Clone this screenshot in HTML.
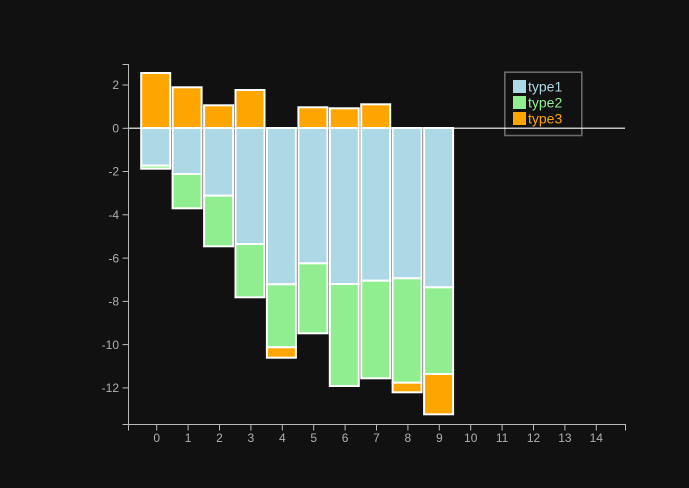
<!DOCTYPE html>
<html><head><meta charset="utf-8"><style>
html,body{margin:0;padding:0;background:#111111;}
svg{display:block;}
text{font-family:"Liberation Sans",Arial,sans-serif;}
</style></head><body>
<svg width="689" height="488" viewBox="0 0 689 488" xmlns="http://www.w3.org/2000/svg">
<rect x="0" y="0" width="689" height="488" fill="#111111"/>
<g stroke="#ffffff" stroke-width="2">
<!-- bar 0 -->
<rect x="141.2" y="73" width="29" height="55" fill="#ffa500"/>
<rect x="141.2" y="128" width="29" height="37.5" fill="#add8e6"/>
<rect x="141.2" y="165.5" width="29" height="3.2" fill="#90ee90"/>
<!-- bar 1 -->
<rect x="172.6" y="87.3" width="29" height="40.7" fill="#ffa500"/>
<rect x="172.6" y="128" width="29" height="46" fill="#add8e6"/>
<rect x="172.6" y="174" width="29" height="34.3" fill="#90ee90"/>
<!-- bar 2 -->
<rect x="204.1" y="105.3" width="29" height="22.7" fill="#ffa500"/>
<rect x="204.1" y="128" width="29" height="67.7" fill="#add8e6"/>
<rect x="204.1" y="195.7" width="29" height="50.6" fill="#90ee90"/>
<!-- bar 3 -->
<rect x="235.5" y="90" width="29" height="38" fill="#ffa500"/>
<rect x="235.5" y="128" width="29" height="116" fill="#add8e6"/>
<rect x="235.5" y="244" width="29" height="53.3" fill="#90ee90"/>
<!-- bar 4 -->
<rect x="266.9" y="128" width="29" height="156.3" fill="#add8e6"/>
<rect x="266.9" y="284.3" width="29" height="63" fill="#90ee90"/>
<rect x="266.9" y="347.3" width="29" height="10.4" fill="#ffa500"/>
<!-- bar 5 -->
<rect x="298.4" y="107.3" width="29" height="20.7" fill="#ffa500"/>
<rect x="298.4" y="128" width="29" height="135.3" fill="#add8e6"/>
<rect x="298.4" y="263.3" width="29" height="70" fill="#90ee90"/>
<!-- bar 6 -->
<rect x="329.8" y="108.3" width="29" height="19.7" fill="#ffa500"/>
<rect x="329.8" y="128" width="29" height="156" fill="#add8e6"/>
<rect x="329.8" y="284" width="29" height="102" fill="#90ee90"/>
<!-- bar 7 -->
<rect x="361.2" y="104.3" width="29" height="23.7" fill="#ffa500"/>
<rect x="361.2" y="128" width="29" height="152.7" fill="#add8e6"/>
<rect x="361.2" y="280.7" width="29" height="97.6" fill="#90ee90"/>
<!-- bar 8 -->
<rect x="392.6" y="128" width="29" height="150.3" fill="#add8e6"/>
<rect x="392.6" y="278.3" width="29" height="104.4" fill="#90ee90"/>
<rect x="392.6" y="382.7" width="29" height="9.6" fill="#ffa500"/>
<!-- bar 9 -->
<rect x="424.1" y="128" width="29" height="159.3" fill="#add8e6"/>
<rect x="424.1" y="287.3" width="29" height="86.7" fill="#90ee90"/>
<rect x="424.1" y="374" width="29" height="40.3" fill="#ffa500"/>
</g>

<!-- legend -->
<rect x="504.8" y="72.2" width="77" height="63.3" fill="none" stroke="#6a6a6a" stroke-width="1.6"/>
<rect x="513" y="80" width="13" height="13" fill="#add8e6"/>
<rect x="513" y="96" width="13" height="13" fill="#90ee90"/>
<rect x="513" y="112" width="13" height="13" fill="#ffa500"/>
<text x="528" y="91.5" font-size="14" fill="#add8e6">type1</text>
<text x="528" y="107.5" font-size="14" fill="#90ee90">type2</text>
<text x="528" y="123.5" font-size="14" fill="#ffa500">type3</text>

<!-- zero line -->
<line x1="128" y1="128.2" x2="625" y2="128.2" stroke="#ffffff" stroke-width="1.2"/>

<!-- y axis -->
<g stroke="#bbbbbb" stroke-width="1" fill="none">
<path d="M122.5,64.5H128.5V424.5H122.5"/>
<line x1="122.5" y1="85" x2="128.5" y2="85"/>
<line x1="122.5" y1="128.3" x2="128.5" y2="128.3"/>
<line x1="122.5" y1="171.5" x2="128.5" y2="171.5"/>
<line x1="122.5" y1="214.8" x2="128.5" y2="214.8"/>
<line x1="122.5" y1="258.1" x2="128.5" y2="258.1"/>
<line x1="122.5" y1="301.4" x2="128.5" y2="301.4"/>
<line x1="122.5" y1="344.6" x2="128.5" y2="344.6"/>
<line x1="122.5" y1="387.9" x2="128.5" y2="387.9"/>
</g>
<g font-size="12" fill="#b0b0b0" text-anchor="end">
<text x="119" y="89.2">2</text>
<text x="119" y="132.5">0</text>
<text x="119" y="175.7">-2</text>
<text x="119" y="219">-4</text>
<text x="119" y="262.3">-6</text>
<text x="119" y="305.6">-8</text>
<text x="119" y="348.8">-10</text>
<text x="119" y="392.1">-12</text>
</g>

<!-- x axis -->
<g stroke="#bbbbbb" stroke-width="1" fill="none">
<path d="M128.5,430.5V424.5H625.5V430.5"/>
<line x1="156.7" y1="424.5" x2="156.7" y2="430.5"/>
<line x1="188.1" y1="424.5" x2="188.1" y2="430.5"/>
<line x1="219.5" y1="424.5" x2="219.5" y2="430.5"/>
<line x1="250.9" y1="424.5" x2="250.9" y2="430.5"/>
<line x1="282.3" y1="424.5" x2="282.3" y2="430.5"/>
<line x1="313.7" y1="424.5" x2="313.7" y2="430.5"/>
<line x1="345.1" y1="424.5" x2="345.1" y2="430.5"/>
<line x1="376.5" y1="424.5" x2="376.5" y2="430.5"/>
<line x1="407.9" y1="424.5" x2="407.9" y2="430.5"/>
<line x1="439.3" y1="424.5" x2="439.3" y2="430.5"/>
<line x1="470.7" y1="424.5" x2="470.7" y2="430.5"/>
<line x1="502.1" y1="424.5" x2="502.1" y2="430.5"/>
<line x1="533.5" y1="424.5" x2="533.5" y2="430.5"/>
<line x1="564.9" y1="424.5" x2="564.9" y2="430.5"/>
<line x1="596.3" y1="424.5" x2="596.3" y2="430.5"/>
</g>
<g font-size="12" fill="#b0b0b0" text-anchor="middle">
<text x="156.7" y="442">0</text>
<text x="188.1" y="442">1</text>
<text x="219.5" y="442">2</text>
<text x="250.9" y="442">3</text>
<text x="282.3" y="442">4</text>
<text x="313.7" y="442">5</text>
<text x="345.1" y="442">6</text>
<text x="376.5" y="442">7</text>
<text x="407.9" y="442">8</text>
<text x="439.3" y="442">9</text>
<text x="470.7" y="442">10</text>
<text x="502.1" y="442">11</text>
<text x="533.5" y="442">12</text>
<text x="564.9" y="442">13</text>
<text x="596.3" y="442">14</text>
</g>
</svg>
</body></html>
